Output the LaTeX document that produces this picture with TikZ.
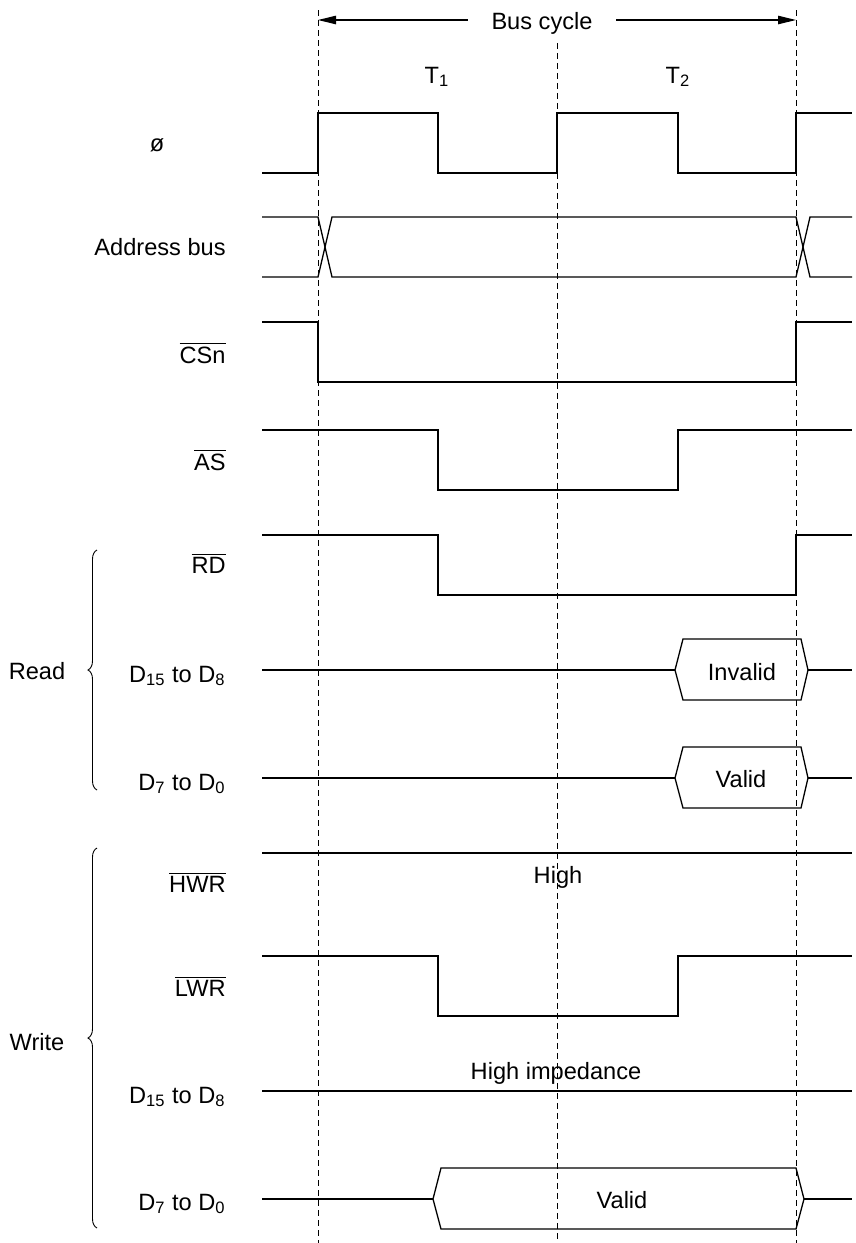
\documentclass[tikz,border=0pt]{standalone}
\usepackage{fontspec}
\setmainfont{Liberation Sans}
\usetikzlibrary{arrows.meta,decorations.pathreplacing}
\newcommand{\nsig}[1]{$\overline{\mbox{#1}}$}

\begin{document}
\begin{tikzpicture}[
        x=0.5pt,y=-0.5pt,
        every node/.style={
            inner sep=0pt,
            font=\fontsize{11.8}{14}\selectfont
        },
        signal/.style={line width=0.65pt},
        gridline/.style={line width=0.45pt,dash pattern=on 3pt off 2pt},
        cycarrow/.style={-{Triangle[length=9pt,width=4.2pt]},line width=0.6pt},
        group/.style={decorate,decoration={brace,amplitude=4.5pt},line width=0.45pt}
    ]
    \useasboundingbox (0,0) rectangle (856,1243);
% Cycle
    \foreach\x in {318,796}{
        \draw[gridline] (\x,10) -- (\x,1243);
    }
    \draw[gridline] (557,43) -- (557,1243);
    \node[anchor=base,inner xsep=11.7pt] (cyc) at (542,29) {Bus cycle};
    \coordinate (cycL) at (318,20);
    \coordinate (cycR) at (796,20);
    \draw[cycarrow] (cycL -| cyc.west) -- (cycL);
    \draw[cycarrow] (cycR -| cyc.east) -- (cycR);
    \node[anchor=base] (tone) at (437,83) {T\textsubscript{1}};
    \node[anchor=base] (ttwo) at (678,83) {T\textsubscript{2}};
% Signals
    \draw[signal] (262,173) -- (318,173) -- (318,113) -- (438,113) -- (438,173) -- (557,173)
        -- (557,113) -- (678,113) -- (678,173) -- (796,173) -- (796,113) -- (852,113);
    \draw[signal] (262,217) -- (318,217) -- (332,277) -- (796,277) -- (810,217) -- (852,217);
    \draw[signal] (262,277) -- (318,277) -- (332,217) -- (796,217) -- (810,277) -- (852,277);
    \draw[signal] (262,322) -- (318,322) -- (318,382) -- (796,382) -- (796,322) -- (852,322);
    \draw[signal] (262,430) -- (438,430) -- (438,490) -- (678,490) -- (678,430) -- (852,430);
    \draw[signal] (262,535) -- (438,535) -- (438,595) -- (796,595) -- (796,535) -- (852,535);
    \foreach\y in {670,778}{
        \draw[signal] (262,\y) -- (675,\y);
        \draw[signal] (675,\y) -- (683,\y-31) -- (801,\y-31) -- (808,\y) -- (801,\y+30) -- (683,\y+30) -- cycle;
        \draw[signal] (808,\y) -- (852,\y);
    }
    \draw[signal] (262,853) -- (852,853);
    \draw[signal] (262,956) -- (438,956) -- (438,1016) -- (678,1016) -- (678,956) -- (852,956);
    \draw[signal] (262,1091) -- (852,1091);
    \draw[line width=1.3pt] (408,1091) -- (433,1091);
    \draw[signal] (262,1199) -- (433,1199);
    \draw[signal] (433,1199) -- (441,1168) -- (796,1168) -- (804,1199) -- (796,1229) -- (441,1229) -- cycle;
    \draw[signal] (804,1199) -- (852,1199);
% Values
    \node[anchor=base] (rinv) at (742,680) {Invalid};
    \node[anchor=base] (rval) at (741,787) {Valid};
    \node[anchor=base] (hhigh) at (558,883) {High};
    \node[anchor=base] (himp) at (556,1079) {High impedance};
    \node[anchor=base] (wval) at (622,1208) {Valid};
% Labels
    \node[anchor=base] (lphi) at (157,151) {ø};
\foreach\y/\t/\n in {255/{Address bus}/addr,363/{\nsig{CSn}}/cs,470/{\nsig{AS}}/as,
        573/{\nsig{RD}}/rd,682/{D\textsubscript{15} to D\textsubscript{8}}/rdhi,
        790/{D\textsubscript{7} to D\textsubscript{0}}/rdlo,892/{\nsig{HWR}}/hwr,
        996/{\nsig{LWR}}/lwr,1103/{D\textsubscript{15} to D\textsubscript{8}}/wrhi,
        1210/{D\textsubscript{7} to D\textsubscript{0}}/wrlo}{
    \node[anchor=base east] (l\n) at (226,\y) {\t};
}
% Groups
    \draw[group] (97,790) -- (97,550);
    \draw[group] (97,1228) -- (97,848);
    \node[anchor=base] (gread) at (37,679) {Read};
    \node[anchor=base] (gwrite) at (37,1050) {Write};
\end{tikzpicture}
\end{document}
